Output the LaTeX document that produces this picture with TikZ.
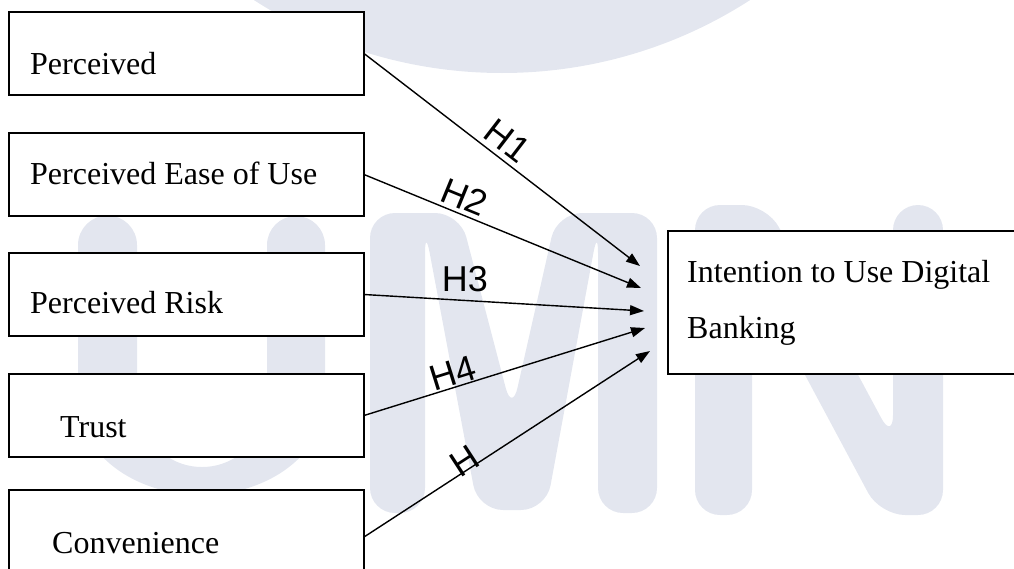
\documentclass[tikz,border=0pt]{standalone}
\usepackage{fontspec}
\setmainfont{Liberation Serif}
\newfontfamily\labelfont{Liberation Sans}
\usetikzlibrary{arrows.meta}
\definecolor{wm}{RGB}{227,230,239}
\begin{document}
\begin{tikzpicture}[x=1pt,y=-1pt,
  box/.style={draw=black, line width=1.9pt, fill=white, outer sep=0pt, inner sep=0pt, anchor=north west},
  txt/.style={anchor=base west, inner sep=0pt, font=\fontsize{32}{38}\selectfont},
  conn/.style={line width=1.4pt, -{Triangle[length=14pt,width=10pt]}},
  hlab/.style={font=\labelfont\fontsize{36}{40}\selectfont, inner sep=0pt}]
\useasboundingbox (0,0) rectangle (1014,568);
\begin{scope}
\clip (0,0) rectangle (1014,568);
% watermark
\fill[wm] (502,-385) circle[radius=458];
\fill[wm] (78,245) arc[start angle=180,end angle=360,radius=29.5]
  -- (137,400) arc[start angle=180,end angle=0,x radius=65,y radius=67]
  -- (267,245) arc[start angle=180,end angle=360,radius=29]
  -- (325,400) arc[start angle=0,end angle=180,x radius=123.5,y radius=95]
  -- cycle;
\fill[wm, rounded corners=25pt] (370,213) -- (460,213) -- (512,412) -- (557,213) -- (657,213)
  -- (657,513) -- (598,513) -- (598,228) -- (546,510) -- (478,510) -- (425,228)
  -- (425,513) -- (370,513) -- cycle;
\fill[wm, rounded corners=25pt] (695,205) -- (767,205) -- (893,440) -- (893,205) -- (943,205)
  -- (943,515) -- (880,515) -- (752,276) -- (752,515) -- (695,515) -- cycle;
% boxes
\node[box, minimum width=355pt, minimum height=83pt] (b1) at (9,12) {};
\node[box, minimum width=355pt, minimum height=83pt] (b2) at (9,133) {};
\node[box, minimum width=355pt, minimum height=83pt] (b3) at (9,253) {};
\node[box, minimum width=355pt, minimum height=83pt] (b4) at (9,374) {};
\node[box, minimum width=355pt, minimum height=94pt] (b5) at (9,490) {};
\node[box, minimum width=370pt, minimum height=143pt] (dv) at (668,231) {};
% texts
\node[txt] (l1) at (30,74) {Perceived};
\node[txt] (l2) at (30,184) {Perceived Ease of Use};
\node[txt] (l3) at (30,313) {Perceived Risk};
\node[txt] (l4) at (60,437) {Trust};
\node[txt] (l5) at (52,553) {Convenience};
\node[txt] (l6) at (687,282) {Intention to Use Digital};
\node[txt] (l7) at (687,338) {Banking};
% connectors
\coordinate (e1) at (640,266);
\coordinate (e2) at (641,288);
\coordinate (e3) at (644,311);
\coordinate (e4) at (645,328);
\coordinate (e5) at (650,351);
\draw[conn] (b1.east) -- (e1) node[hlab, sloped, above=5pt, pos=0.48] (h1) {H1};
\draw[conn] (b2.east) -- (e2) node[hlab, sloped, above=4pt, pos=0.34] (h2) {H2};
\draw[conn] (b3.east) -- (e3) node[hlab, above=8pt, pos=0.36] (h3) {H3};
\draw[conn] (b4.east) -- (e4) node[hlab, sloped, above=1pt, pos=0.33] (h4) {H4};
\draw[conn] (b5.east) -- (e5) node[hlab, sloped, above=-4pt, pos=0.37] (h5) {H};
\end{scope}
\end{tikzpicture}
\end{document}
